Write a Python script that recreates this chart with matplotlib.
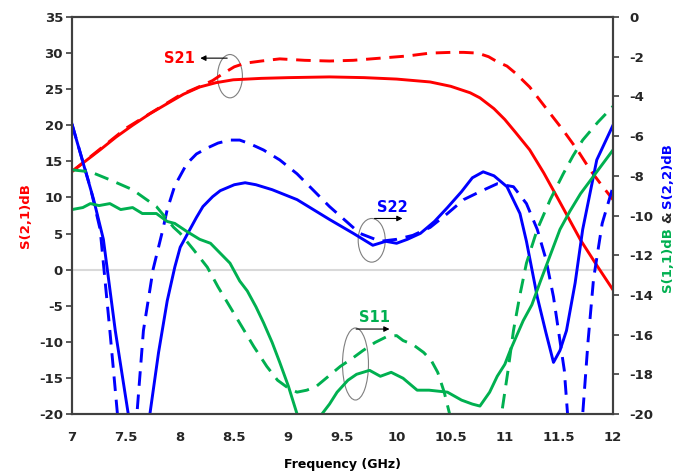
import numpy as np
import matplotlib.pyplot as plt
from matplotlib.patches import Ellipse

plt.rcParams['axes.unicode_minus'] = False

# S21 (left axis)
s21_x = [7.0, 7.13, 7.26, 7.41, 7.56, 7.72, 7.88, 8.03, 8.18, 8.33, 8.49, 8.75, 9.0, 9.38, 9.7, 10.0, 10.31, 10.5, 10.68,
         10.77, 10.9, 11.0, 11.1, 11.23, 11.36, 11.5, 11.7, 11.85, 12.0]
s21_meas = [13.6, 15.1, 16.6, 18.4, 20.0, 21.6, 23.0, 24.3, 25.3, 25.9, 26.3, 26.5, 26.6, 26.7, 26.6, 26.4, 26.0, 25.4, 24.5,
            23.8, 22.3, 20.8, 19.0, 16.6, 13.4, 9.6, 4.1, 0.6, -2.8]
s21_sim_x = [7.0, 7.5, 8.0, 8.2, 8.3, 8.4, 8.5, 8.6, 8.75, 8.92, 9.15, 9.38, 9.6, 9.85, 10.1, 10.31, 10.5, 10.62, 10.75,
             10.85, 10.93, 11.02, 11.1, 11.23, 11.4, 11.54, 11.67, 11.79, 11.9, 12.0]
s21_sim = [13.6, 19.6, 24.2, 25.5, 26.2, 27.2, 28.1, 28.6, 28.9, 29.2, 29.0, 28.9, 29.0, 29.3, 29.6, 30.0, 30.1, 30.1, 30.0,
           29.5, 28.8, 28.2, 27.2, 25.3, 22.0, 19.3, 16.6, 13.8, 11.6, 9.7]

# S22 (right axis)
s22_x = [7.0, 7.1, 7.2, 7.29, 7.4, 7.52, 7.62, 7.72, 7.8, 7.88, 7.95, 8.0, 8.06, 8.1, 8.15, 8.21, 8.3, 8.37, 8.5, 8.6,
         8.7, 8.85, 9.08, 9.38, 9.6, 9.78, 9.9, 10.0, 10.1, 10.22, 10.35, 10.47, 10.6, 10.7, 10.8, 10.9, 11.02, 11.14,
         11.2, 11.3, 11.38, 11.45, 11.51, 11.57, 11.65, 11.72, 11.85, 12.0]
s22_meas = [-5.4, -7.3, -9.2, -11.2, -15.8, -20.0, -22.5, -20.0, -16.9, -14.3, -12.6, -11.6, -11.0, -10.6, -10.1, -9.55,
            -9.05, -8.75, -8.45, -8.35, -8.45, -8.7, -9.2, -10.2, -10.9, -11.5, -11.3, -11.4, -11.2, -10.9, -10.3,
            -9.6, -8.8, -8.1, -7.8, -8.0, -8.55, -9.9, -11.3, -14.1, -15.9, -17.4, -16.8, -15.8, -13.4, -10.7, -7.2, -5.45]
s22_sim_x = [7.0, 7.17, 7.26, 7.35, 7.42, 7.51, 7.6, 7.66, 7.75, 7.84, 7.88, 7.95, 8.06, 8.15, 8.25, 8.35, 8.46, 8.55,
             8.65, 8.77, 8.92, 9.08, 9.38, 9.66, 9.85, 10.0, 10.15, 10.31, 10.47, 10.62, 10.77, 10.93, 11.08, 11.2,
             11.3, 11.38, 11.45, 11.55, 11.58, 11.65, 11.72, 11.77, 11.82, 11.9, 12.0]
s22_sim = [-5.4, -8.6, -10.7, -15.8, -20.0, -23.0, -20.0, -15.8, -12.7, -10.7, -9.7, -8.5, -7.4, -6.9, -6.6, -6.35, -6.2,
           -6.2, -6.4, -6.7, -7.2, -7.9, -9.55, -10.9, -11.3, -11.2, -11.0, -10.6, -9.9, -9.2, -8.8, -8.4, -8.55,
           -9.4, -10.7, -12.2, -14.1, -17.8, -20.0, -22.0, -20.0, -16.3, -13.2, -10.4, -8.55]

# S11 (right axis)
s11_x = [7.0, 7.1, 7.17, 7.25, 7.35, 7.45, 7.56, 7.65, 7.78, 7.88, 7.95, 8.06, 8.18, 8.28, 8.37, 8.46, 8.55, 8.62,
         8.7, 8.77, 8.85, 8.92, 9.0, 9.08, 9.2, 9.31, 9.38, 9.45, 9.55, 9.63, 9.75, 9.85, 9.95, 10.06, 10.19, 10.3, 10.47,
         10.6, 10.7, 10.77, 10.86, 10.93, 11.0, 11.05, 11.17, 11.25, 11.33, 11.42, 11.51, 11.6, 11.7, 11.85, 12.0]
s11_meas = [-9.7, -9.6, -9.4, -9.5, -9.4, -9.7, -9.6, -9.9, -9.9, -10.3, -10.4, -10.8, -11.2, -11.4, -11.9, -12.4, -13.3,
            -13.8, -14.6, -15.4, -16.4, -17.4, -18.6, -20.0, -21.0, -20.0, -19.5, -18.9, -18.3, -18.0, -17.8, -18.1,
            -17.9, -18.2, -18.8, -18.8, -18.9, -19.3, -19.5, -19.6, -18.9, -18.1, -17.5, -16.8, -15.3, -14.5, -13.3,
            -12.0, -10.7, -9.8, -8.9, -7.8, -6.7]
s11_sim_x = [7.0, 7.17, 7.35, 7.56, 7.78, 7.94, 8.0, 8.12, 8.25, 8.35, 8.46, 8.57, 8.68, 8.8, 8.9, 9.0, 9.08, 9.17, 9.26,
             9.37, 9.48, 9.59, 9.69, 9.8, 9.91, 10.0, 10.06, 10.15, 10.25, 10.32, 10.38, 10.44, 10.49, 10.6, 10.85, 10.97,
             11.03, 11.08, 11.14, 11.2, 11.3, 11.42, 11.54, 11.63, 11.72, 11.86, 12.0]
s11_sim = [-7.7, -7.8, -8.2, -8.7, -9.55, -10.6, -10.9, -11.7, -12.6, -13.6, -14.6, -15.6, -16.6, -17.6, -18.3, -18.7,
           -18.9, -18.8, -18.6, -18.1, -17.6, -17.2, -16.8, -16.4, -16.1, -16.05, -16.3, -16.5, -16.9, -17.3, -17.9,
           -18.9, -20.0, -23.0, -23.0, -20.0, -17.8, -15.8, -14.0, -12.4, -10.7, -9.2, -7.9, -7.0, -6.2, -5.3, -4.5]

x_ticks = [7, 7.5, 8, 8.5, 9, 9.5, 10, 10.5, 11, 11.5, 12]
x_labels = ['7', '7.5', '8', '8.5', '9', '9.5', '10', '10.5', '11', '11.5', '12']

RED, BLUE, GREEN = '#FF0000', '#0000FF', '#00B050'
dash = (0, (5.0, 3.0))
lw = 2.1
spine_c = '#404040'

fig = plt.figure(figsize=(6.86, 4.73), dpi=100)
ax = fig.add_axes([72/686, 1-414/473, (613-72)/686, (414-17)/473])
ax2 = ax.twinx()

ax.axhline(0, color='#d9d9d9', lw=1.5, zorder=0)
ax.plot(s21_x, s21_meas, color=RED, lw=lw)
ax.plot(s21_sim_x, s21_sim, color=RED, lw=lw, linestyle=dash)

ax2.plot(s22_x, s22_meas, color=BLUE, lw=lw)
ax2.plot(s22_sim_x, s22_sim, color=BLUE, lw=lw, linestyle=dash)
ax2.plot(s11_x, s11_meas, color=GREEN, lw=lw)
ax2.plot(s11_sim_x, s11_sim, color=GREEN, lw=lw, linestyle=dash)

ax.set_xlim(7, 12)
ax.set_ylim(-20, 35)
ax2.set_ylim(-20, 0)
ax.set_yticks(np.arange(-20, 36, 5))
ax2.set_yticks(np.arange(-20, 1, 2))
ax.set_xticks(x_ticks)
ax.set_xticklabels(x_labels)

for a in (ax, ax2):
    for s in a.spines.values():
        s.set_color(spine_c)
        s.set_linewidth(1.5)
    for lab in a.get_xticklabels() + a.get_yticklabels():
        lab.set_fontweight('bold')
        lab.set_fontsize(9.5)
        lab.set_color('#262626')
ax.tick_params(axis='x', length=0, pad=12)
ax.tick_params(axis='y', direction='out', length=4.5, width=1.2, color=spine_c, pad=2)
ax2.tick_params(axis='y', direction='out', length=4, width=1.2, color=spine_c, pad=8)

ax.set_xlabel('Frequency (GHz)', fontsize=9, fontweight='bold', labelpad=10)
ax.set_ylabel('S(2,1)dB', fontsize=9.5, fontweight='bold', color=RED, labelpad=5)

# annotations
ax.add_patch(Ellipse((8.46, 26.8), 0.23, 6.0, fill=False, ec='#7f7f7f', lw=0.8))
ax.annotate('', xy=(8.16, 29.3), xytext=(8.46, 29.3),
            arrowprops=dict(arrowstyle='-|>', color='black', lw=0.8, mutation_scale=8))
ax.text(8.14, 29.3, 'S21', color=RED, fontsize=10.5, fontweight='bold', ha='right', va='center')

ax2.add_patch(Ellipse((9.77, -11.25), 0.25, 2.2, fill=False, ec='#7f7f7f', lw=0.8))
ax2.annotate('', xy=(10.08, -10.15), xytext=(9.77, -10.15),
             arrowprops=dict(arrowstyle='-|>', color='black', lw=0.8, mutation_scale=8))
ax2.text(9.96, -9.95, 'S22', color=BLUE, fontsize=10.5, fontweight='bold', ha='center', va='bottom')

ax2.add_patch(Ellipse((9.62, -17.48), 0.24, 3.63, fill=False, ec='#7f7f7f', lw=0.8))
ax2.annotate('', xy=(9.96, -15.72), xytext=(9.60, -15.72),
             arrowprops=dict(arrowstyle='-|>', color='black', lw=0.8, mutation_scale=8))
ax2.text(9.8, -15.5, 'S11', color=GREEN, fontsize=10.5, fontweight='bold', ha='center', va='bottom')

# right label in three colours, stacked bottom to top
fig.canvas.draw()
r = fig.canvas.get_renderer()
parts = [('S(1,1)dB', GREEN), ('&', '#262626'), ('S(2,2)dB', BLUE)]
texts = [fig.text(0, 0, p, color=c, rotation=90, fontsize=9.5, fontweight='bold', ha='center', va='bottom')
         for p, c in parts]
heights = [t.get_window_extent(r).height for t in texts]
gap = 4
total = sum(heights) + gap * (len(heights) - 1)
y_px = (473 - 217.5) - total / 2
for t, h in zip(texts, heights):
    t.set_position((668 / 686, y_px / 473))
    y_px += h + gap

fig.savefig('out.png', dpi=100)
